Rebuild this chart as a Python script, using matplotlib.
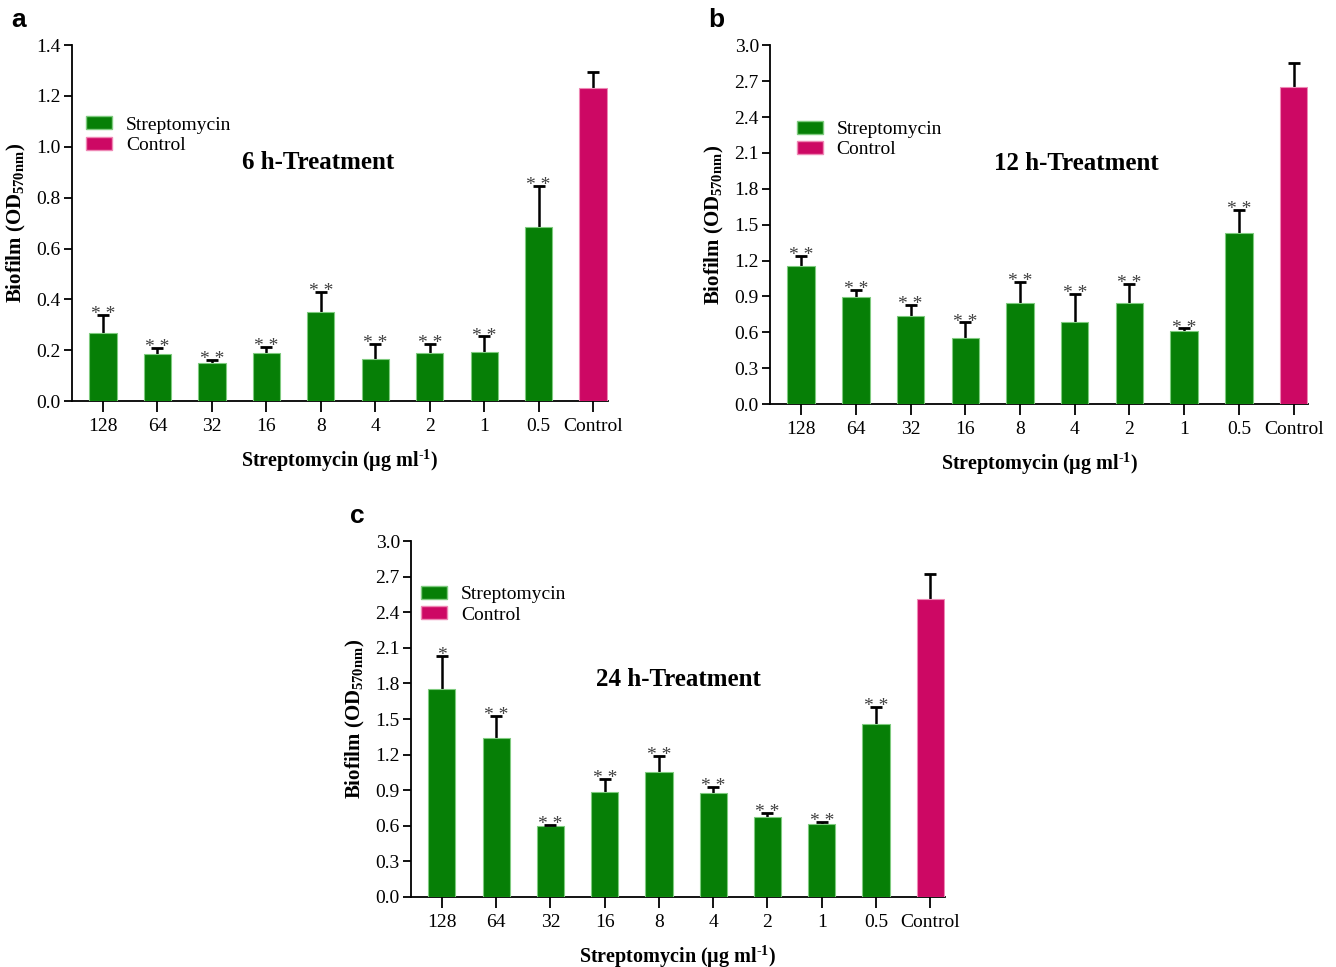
import matplotlib
matplotlib.use('Agg')
import matplotlib.pyplot as plt
from matplotlib.patches import Patch
import numpy as np

plt.rcParams['font.family'] = 'Liberation Serif'
plt.rcParams['mathtext.fontset'] = 'custom'
plt.rcParams['mathtext.rm'] = 'Liberation Serif'
plt.rcParams['mathtext.bf'] = 'Liberation Serif:bold'

doses = ['128', '64', '32', '16', '8', '4', '2', '1', '0.5', 'Control']

# mean OD570 and SD for each panel
od_6h = [0.268, 0.183, 0.150, 0.190, 0.349, 0.164, 0.187, 0.194, 0.683, 1.233]
sd_6h = [0.070, 0.026, 0.011, 0.023, 0.079, 0.062, 0.038, 0.060, 0.164, 0.060]
sig_6h = ['* *'] * 9 + ['']

od_12h = [1.153, 0.897, 0.738, 0.549, 0.841, 0.685, 0.847, 0.610, 1.432, 2.649]
sd_12h = [0.084, 0.056, 0.089, 0.133, 0.178, 0.237, 0.159, 0.022, 0.189, 0.203]
sig_12h = ['* *'] * 9 + ['']

od_24h = [1.757, 1.338, 0.602, 0.888, 1.054, 0.877, 0.675, 0.618, 1.462, 2.513]
sd_24h = [0.273, 0.186, 0.008, 0.107, 0.135, 0.054, 0.033, 0.017, 0.138, 0.206]
sig_24h = ['*'] + ['* *'] * 8 + ['']

GREEN = '#067F06'
PINK = '#CD0864'


def draw_panel(ax, vals, errs, sig, ymax, ystep, title, title_xy, leg_xy, letter):
    x = np.arange(len(vals))
    vals = np.array(vals)
    errs = np.array(errs)
    colors = [GREEN] * 9 + [PINK]
    edges = ['#7FCB7F'] * 9 + ['#EE88B5']
    ax.bar(x, vals, width=0.5, color=colors, edgecolor=edges, linewidth=0.8, zorder=3)
    ax.errorbar(x, vals, yerr=[np.zeros_like(errs), errs], fmt='none',
                ecolor='black', elinewidth=1.8, capsize=0, zorder=2)
    ax.plot(x, vals + errs, ls='none', marker='_', markersize=9,
            markeredgewidth=2.0, color='black', zorder=4)
    for xi, top, s in zip(x, vals + errs, sig):
        if s:
            ax.annotate(s, (xi, top), xytext=(0, -3), textcoords='offset points',
                        ha='center', va='baseline', fontsize=14, color='#404040')

    ax.set_xlim(-0.57, 9.27)
    ax.set_ylim(0, ymax)
    yt = np.arange(0, ymax + ystep / 2, ystep)
    ax.set_yticks(yt)
    ax.set_yticklabels(['%.1f' % v for v in yt])
    ax.set_xticks(x)
    ax.set_xticklabels(doses)
    for s in ['top', 'right']:
        ax.spines[s].set_visible(False)
    for s in ['left', 'bottom']:
        ax.spines[s].set_linewidth(1.3)
    ax.tick_params(axis='y', length=6, width=1.3, labelsize=14, pad=2)
    ax.tick_params(axis='x', length=8, width=1.3, labelsize=14, pad=4)

    ax.text(-0.103, 0.5, r'Biofilm (OD$_{\mathbf{570nm}}$)', transform=ax.transAxes,
            rotation=90, ha='center', va='center', fontsize=15, fontweight='bold')
    ax.text(0.5, -0.166, 'Streptomycin (µg ml$^{\\mathbf{\u2010 1}}$)', transform=ax.transAxes,
            ha='center', va='center', fontsize=14.5, fontweight='bold')

    ax.text(title_xy[0], title_xy[1], title, transform=ax.transAxes,
            ha='center', va='center', fontsize=18, fontweight='bold')

    handles = [Patch(facecolor=GREEN, edgecolor='#7FCB7F', label='Streptomycin'),
               Patch(facecolor=PINK, edgecolor='#EE88B5', label='Control')]
    ax.legend(handles=handles, loc='upper left', bbox_to_anchor=leg_xy, frameon=False,
              fontsize=14, handlelength=1.33, handleheight=0.65, handletextpad=0.72,
              labelspacing=0.15, borderaxespad=0, borderpad=0)

    ax.text(-0.1, 1.07, letter, transform=ax.transAxes, fontsize=19,
            fontweight='bold', family='Liberation Sans', ha='center', va='center')


fig = plt.figure(figsize=(13.36, 9.67), dpi=100)
ax_a = fig.add_axes([0.0539, 0.5853, 0.401, 0.368])
ax_b = fig.add_axes([0.5763, 0.5822, 0.403, 0.371])
ax_c = fig.add_axes([0.3076, 0.0724, 0.3997, 0.368])

draw_panel(ax_a, od_6h, sd_6h, sig_6h, 1.4, 0.2, '6 h-Treatment', (0.459, 0.671),
           (0.026, 0.80), 'a')
draw_panel(ax_b, od_12h, sd_12h, sig_12h, 3.0, 0.3, '12 h-Treatment', (0.569, 0.671),
           (0.05, 0.79), 'b')
draw_panel(ax_c, od_24h, sd_24h, sig_24h, 3.0, 0.3, '24 h-Treatment', (0.5, 0.612),
           (0.019, 0.874), 'c')

fig.savefig('out.png', dpi=100)
